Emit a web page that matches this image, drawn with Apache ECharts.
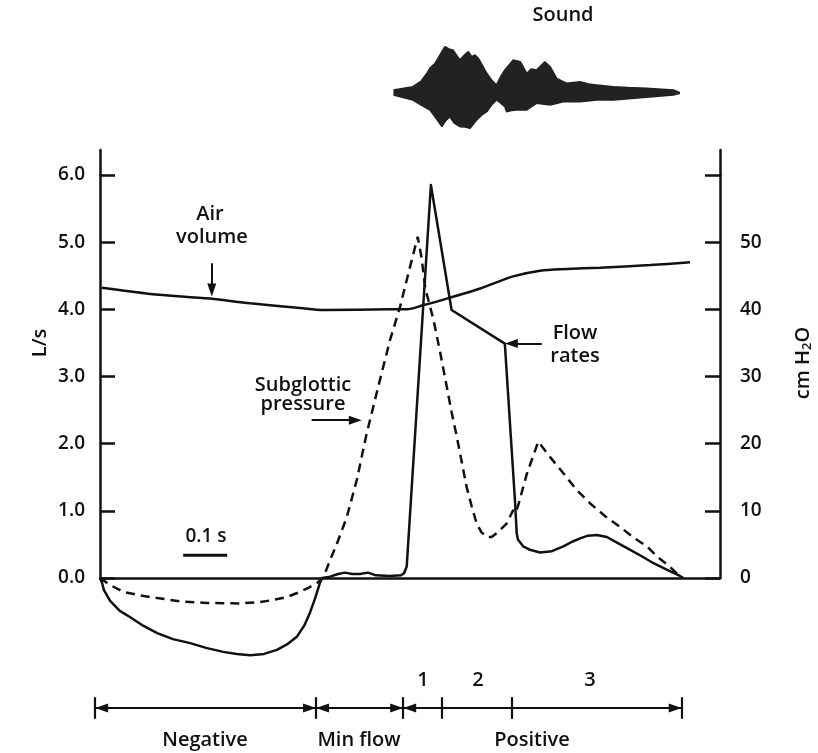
<!DOCTYPE html>
<html><head><meta charset="utf-8">
<script src="https://cdn.jsdelivr.net/npm/echarts@6/dist/echarts.min.js"></script>
<style>html,body{margin:0;padding:0;background:#fff}#c{width:818px;height:753px}</style>
</head><body><div id="c"></div>
<script>
// ---- data (time in seconds) ----
const flowRate = [[0,0],[0.0045,-0.07],[0.009,-0.18],[0.023,-0.34],[0.045,-0.49],[0.068,-0.58],[0.098,-0.71],[0.13,-0.82],[0.166,-0.91],[0.205,-0.97],[0.241,-1.04],[0.28,-1.10],[0.311,-1.13],[0.341,-1.15],[0.373,-1.13],[0.402,-1.07],[0.427,-0.98],[0.448,-0.87],[0.464,-0.71],[0.477,-0.52],[0.489,-0.30],[0.50,-0.07],[0.505,0],
  [0.523,0.02],[0.541,0.06],[0.557,0.08],[0.573,0.06],[0.591,0.06],[0.609,0.08],[0.627,0.04],[0.659,0.03],[0.684,0.04],[0.691,0.07],[0.697,0.17],
  [0.752,5.85],[0.799,3.99],[0.920,3.49],[0.943,1.16],[0.947,0.665],[0.950,0.57],[0.962,0.47],[0.977,0.42],[1.0,0.38],[1.027,0.40],[1.053,0.47],[1.073,0.54],[1.091,0.59],[1.109,0.63],[1.129,0.64],[1.152,0.61],[1.177,0.52],[1.205,0.42],[1.232,0.32],[1.258,0.22],[1.289,0.12],[1.318,0.03],[1.326,0]];
const airVolume = [[0.004,4.32],[0.114,4.23],[0.25,4.16],[0.341,4.09],[0.455,4.02],[0.507,3.99],[0.659,4.0],[0.697,4.0],[0.734,4.06],[0.788,4.16],[0.864,4.31],[0.939,4.49],[1.0,4.575],[1.061,4.6],[1.136,4.62],[1.25,4.66],[1.341,4.70]];
const subglotticPressure = [[0,0],[0.023,-1.04],[0.052,-2.04],[0.091,-2.6],[0.13,-2.98],[0.186,-3.5],[0.243,-3.72],[0.318,-3.8],[0.364,-3.57],[0.393,-3.28],[0.425,-2.83],[0.448,-2.23],[0.473,-1.49],[0.493,-0.74],[0.507,0],
  [0.523,2.68],[0.539,5.2],[0.561,9.1],[0.584,14.7],[0.606,21.5],[0.632,28.4],[0.659,35.4],[0.682,40.4],[0.701,45.4],[0.722,50.8],[0.731,47.6],[0.739,43.2],[0.758,38.4],[0.773,33.6],[0.788,28.5],[0.799,24.7],[0.811,21.0],[0.822,17.3],[0.833,13.6],[0.845,10.6],[0.856,8.1],[0.867,6.8],[0.879,6.1],[0.89,6.1],[0.902,6.7],[0.913,7.4],[0.924,8.1],[0.939,10.1],[0.945,9.7],[0.952,11.2],[0.97,15.5],[0.996,20.3],
  [1.023,18.0],[1.053,15.6],[1.082,13.2],[1.114,11.1],[1.148,9.2],[1.182,7.6],[1.211,6.1],[1.243,4.7],[1.268,3.1],[1.295,1.7],[1.318,0.2]];
const soundUpper = [[0.667,3],[0.711,6.3],[0.73,12],[0.743,19.7],[0.75,25],[0.762,30],[0.777,41.3],[0.784,46.3],[0.793,44],[0.802,43],[0.81,38],[0.818,33],[0.828,38],[0.837,41.3],[0.845,36.3],[0.852,38],[0.86,34.7],[0.87,27],[0.879,19.7],[0.89,13],[0.901,8],[0.91,16],[0.92,23],[0.939,33],[0.955,31.3],[0.962,26],[0.97,19.7],[0.98,24],[0.992,23],[1.011,31.3],[1.023,26.3],[1.038,14.7],[1.061,9.7],[1.091,11.3],[1.11,9],[1.129,8],[1.167,6.3],[1.2,5.5],[1.242,4.7],[1.303,3],[1.318,0.3]];
const soundLower = [[0.667,-2],[0.711,-7],[0.73,-12],[0.75,-17],[0.765,-26],[0.777,-33.7],[0.785,-28],[0.795,-23.7],[0.805,-30],[0.818,-33.7],[0.83,-34],[0.841,-35.3],[0.856,-27],[0.868,-22],[0.879,-18.7],[0.89,-12],[0.901,-7],[0.91,-10],[0.92,-13.7],[0.924,-18.7],[0.935,-17.5],[0.947,-17],[0.97,-17],[0.992,-10.3],[1.023,-12],[1.053,-8.7],[1.091,-8.7],[1.129,-7],[1.167,-7],[1.242,-4.3],[1.303,-2],[1.318,-0.3]];
const leftTicks = [0,1,2,3,4,5,6];        // L/s
const rightTicks = [0,10,20,30,40,50];    // cm H2O
const scaleBar = [[0.189,0.34],[0.289,0.34]]; // 0.1 s
const phaseBounds = [-0.011,0.491,0.689,0.777,0.936,1.322];
const phaseNames = ['Negative','Min flow','Positive'];
const subPhaseNames = ['1','2','3'];
// annotation arrows [from, tip] in data coords
const airArrow = [[0.254,4.685],[0.254,4.19]];
const pressureArrow = [[0.481,2.35],[0.595,2.35]];
const flowArrow = [[1.004,3.49],[0.920,3.49]];

const XMAX = 1.409;
const PX_PER_S = 440, PX_PER_LS = 67.17;
const HEAD = 6.5; // half arrow-head length (px)
const FONT = '"Open Sans","Noto Sans",sans-serif';
const FW = 600;
const INK = '#111';
const chart = echarts.init(document.getElementById('c'), null, {renderer:'canvas'});

const hiddenAxis = (o) => Object.assign({type:'value', show:false, splitLine:{show:false}}, o);
const lineSer = (o) => Object.assign({type:'line', symbol:'none', silent:true, animation:false}, o);
const arrowML = (pairs, w) => ({
  silent:true, animation:false, symbolSize:[9,13], label:{show:false}, emphasis:{disabled:true},
  lineStyle:{color:INK, width:w||2, type:'solid'},
  data: pairs
});
// pull an arrow tip back so the triangle's point (not its centre) lands on the tip
const pullBack = (from, tip, pxX, pxY) => {
  const dx = (tip[0]-from[0])*pxX, dy = (tip[1]-from[1])*pxY;
  const L = Math.hypot(dx, dy), k = HEAD / L;
  return [tip[0] - (tip[0]-from[0])*k, tip[1] - (tip[1]-from[1])*k];
};
const arrowPair = (a) => [{coord:a[0], symbol:'none'},{coord:pullBack(a[0], a[1], PX_PER_S, PX_PER_LS), symbol:'triangle'}];

const txt = (text, x, y, rot, extra) => ({
  type:'text', x, y, rotation: rot||0, silent:true,
  style: Object.assign({text, x:0, y:0, align:'center', verticalAlign:'middle', textAlign:'center', textVerticalAlign:'middle',
    fontSize:20, fontWeight:FW, fontFamily:FONT, fill:INK}, extra||{})
});

// timeline segments
const tl = phaseBounds, ah = HEAD / PX_PER_S;
const timelineSegs = [
  [{coord:[tl[0]+ah,0], symbol:'triangle'},{coord:[tl[1]-ah,0], symbol:'triangle'}],
  [{coord:[tl[1]+ah,0], symbol:'triangle'},{coord:[tl[2]-ah,0], symbol:'triangle'}],
  [{coord:[tl[2]+ah,0], symbol:'triangle'},{coord:[tl[3],0], symbol:'none'}],
  [{coord:[tl[3],0], symbol:'none'},{coord:[tl[5]-ah,0], symbol:'triangle'}],
  [{coord:[tl[0],0], symbol:'none'},{coord:[tl[5],0], symbol:'none'}]
];
const timelineTicks = tl.map(t => [{coord:[t,-1], symbol:'none'},{coord:[t,1], symbol:'none'}]);

const axisLab = {fontSize:19, fontWeight:FW, fontFamily:FONT, color:INK};
const option = {
  animation:false,
  backgroundColor:'#fff',
  grid:[
    {left:100, right:98, top:175, height:403},        // axes
    {left:100, right:98, top:150, height:25},         // axis extension above 6.0
    {left:100, right:98, top:175, height:503.75},     // data (-1.5..6)
    {left:100, right:98, top:40, height:106},         // sound
    {left:100-0.02*440, right:98, top:695, height:26} // timeline
  ],
  xAxis:[
    {type:'value', gridIndex:0, min:0, max:XMAX, axisLine:{show:true, onZero:false, lineStyle:{color:INK, width:2.5}}, axisTick:{show:false}, axisLabel:{show:false}, splitLine:{show:false}},
    hiddenAxis({gridIndex:1, min:0, max:XMAX}),
    hiddenAxis({gridIndex:2, min:0, max:XMAX}),
    hiddenAxis({gridIndex:3, min:0, max:XMAX}),
    hiddenAxis({gridIndex:4, min:-0.02, max:XMAX})
  ],
  yAxis:[
    {type:'value', gridIndex:0, position:'left', min:leftTicks[0], max:leftTicks[leftTicks.length-1], interval:1,
     axisLine:{show:true, lineStyle:{color:INK, width:2.5}},
     axisTick:{show:true, inside:true, length:15, lineStyle:{color:INK, width:2.5}},
     axisLabel:Object.assign({margin:15, formatter:v=>v.toFixed(1)}, axisLab),
     splitLine:{show:false}},
    {type:'value', gridIndex:0, position:'right', min:0, max:60, interval:10,
     axisLine:{show:true, lineStyle:{color:INK, width:2.5}},
     axisTick:{show:true, inside:true, length:15, lineStyle:{color:INK, width:2.5}},
     axisLabel:Object.assign({margin:20, formatter:v=>rightTicks.includes(v)?String(v):''}, axisLab),
     splitLine:{show:false}},
    {type:'value', gridIndex:1, position:'left', min:0, max:1, axisLine:{show:true, lineStyle:{color:INK, width:2.5}}, axisTick:{show:false}, axisLabel:{show:false}, splitLine:{show:false}},
    {type:'value', gridIndex:1, position:'right', min:0, max:1, axisLine:{show:true, lineStyle:{color:INK, width:2.5}}, axisTick:{show:false}, axisLabel:{show:false}, splitLine:{show:false}},
    hiddenAxis({gridIndex:2, min:-1.5, max:6}),
    hiddenAxis({gridIndex:2, min:-15, max:60}),
    hiddenAxis({gridIndex:3, min:-53, max:53}),
    hiddenAxis({gridIndex:4, min:-1.2, max:1.2})
  ],
  series:[
    lineSer({name:'Air volume', xAxisIndex:2, yAxisIndex:4, data:airVolume, smooth:0.3, lineStyle:{color:INK, width:2.5}}),
    lineSer({name:'Subglottic pressure', xAxisIndex:2, yAxisIndex:5, data:subglotticPressure, lineStyle:{color:INK, width:2.5, type:[9,6]}}),
    lineSer({name:'Flow rates', xAxisIndex:2, yAxisIndex:4, data:flowRate, lineStyle:{color:INK, width:2.5, join:'round'}}),
    lineSer({name:'scale', xAxisIndex:2, yAxisIndex:4, data:scaleBar, lineStyle:{color:INK, width:3}}),
    lineSer({name:'Sound+', xAxisIndex:3, yAxisIndex:6, data:soundUpper, lineStyle:{color:'#222', width:1.5}, areaStyle:{color:'#222', opacity:1}}),
    lineSer({name:'Sound-', xAxisIndex:3, yAxisIndex:6, data:soundLower, lineStyle:{color:'#222', width:1.5}, areaStyle:{color:'#222', opacity:1}}),
    lineSer({name:'arrows', xAxisIndex:2, yAxisIndex:4, data:[],
      markLine: arrowML([arrowPair(airArrow), arrowPair(pressureArrow), arrowPair(flowArrow)], 2)}),
    lineSer({name:'timeline', xAxisIndex:4, yAxisIndex:7, data:[],
      markLine: arrowML(timelineSegs.concat(timelineTicks), 2.2)})
  ],
  graphic:[
    txt('Sound', 563, 15),
    txt('Air', 210, 214),
    txt('volume', 212, 237),
    txt('Subglottic', 303, 385),
    txt('pressure', 303, 404),
    txt('Flow', 575, 333),
    txt('rates', 575, 356),
    txt('0.1 s', 206, 537, 0, {fontSize:19}),
    txt('L/s', 40, 343, Math.PI/2),
    txt('cm H{sub|2}O', 803, 363, Math.PI/2, {rich:{sub:{fontSize:13, fontWeight:FW, fontFamily:FONT, fill:INK, verticalAlign:'bottom', padding:[8,0,0,0]}}}),
    txt(subPhaseNames[0], 423, 680),
    txt(subPhaseNames[1], 478, 680),
    txt(subPhaseNames[2], 590, 680),
    txt(phaseNames[0], 205, 740),
    txt(phaseNames[1], 359, 740),
    txt(phaseNames[2], 532, 740)
  ]
};
chart.setOption(option);
</script></body></html>
